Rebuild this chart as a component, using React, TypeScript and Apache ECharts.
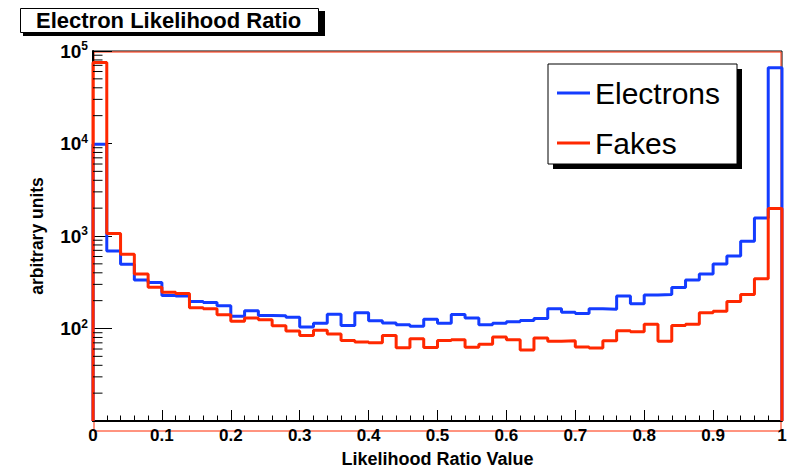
import React, { useEffect, useRef } from "react";
import * as echarts from "echarts";

// Histogram: 50 bins from 0 to 1
const BIN_WIDTH = 0.02;
const Y_MIN = 10;
const Y_MAX = 100000;

const seriesNames = ["Electrons", "Fakes"];

const electrons = [
  9800, 690, 495, 335, 315, 228, 224, 196, 191, 176,
  136, 156, 138, 137, 132, 104, 114, 143, 108, 148,
  121, 115, 110, 106, 126, 114, 142, 130, 110, 114,
  118, 122, 128, 163, 150, 145, 163, 161, 224, 185,
  230, 233, 278, 335, 388, 497, 608, 875, 1565, 65800,
];

const fakes = [
  75300, 1062, 635, 388, 279, 247, 239, 168, 164, 141,
  120, 130, 124, 107, 94, 84, 96, 87, 74, 71.5,
  70, 84, 62, 77.5, 62.5, 74, 75.5, 62.8, 67.5, 81,
  75.5, 58.5, 78.7, 73, 73.5, 63, 61.5, 73.5, 94.7, 92.5,
  111, 72.6, 108, 111, 148, 154, 196, 233, 344, 1977,
];

const yMinorTicks = [
  20, 30, 40, 50, 60, 70, 80, 90,
  200, 300, 400, 500, 600, 700, 800, 900,
  2000, 3000, 4000, 5000, 6000, 7000, 8000, 9000,
  20000, 30000, 40000, 50000, 60000, 70000, 80000, 90000,
];

const FONT = "'Liberation Sans', Arial, Helvetica, sans-serif";
const BLUE = "#143cff";
const RED = "#ff2800";

function stepPoints(vals: number[]): number[][] {
  const pts: number[][] = [[0, Y_MIN]];
  vals.forEach((v, i) => pts.push([+(i * BIN_WIDTH).toFixed(4), v]));
  pts.push([1, Y_MIN]);
  return pts;
}

export default function App() {
  const ref = useRef<HTMLDivElement>(null);
  useEffect(() => {
    if (!ref.current) return;
    const chart = echarts.init(ref.current, null, { renderer: "svg" });
    const option: any = {
      animation: false,
      backgroundColor: "#ffffff",
      textStyle: { fontFamily: FONT },
      title: {
        text: "Electron Likelihood Ratio",
        left: 20,
        top: 8,
        padding: [1, 18, 1, 16],
        borderColor: "#000",
        borderWidth: 1,
        backgroundColor: "#fff",
        z: 10,
        textStyle: { fontSize: 22, fontWeight: "bold", color: "#000", fontFamily: FONT, lineHeight: 23 },
      },
      graphic: [
        { type: "rect", z: 1, shape: { x: 23, y: 11, width: 302, height: 25 }, style: { fill: "#000" } },
        { type: "rect", z: 1, shape: { x: 553, y: 69, width: 189, height: 100 }, style: { fill: "#000" } },
        { type: "rect", z: 2, shape: { x: 548, y: 64, width: 189, height: 100 }, style: { fill: "#fff", stroke: "#000", lineWidth: 1 } },
        { type: "rect", z: 0, silent: true, shape: { x: 94, y: 52, width: 687, height: 379 }, style: { fill: "none", stroke: RED, lineWidth: 1 } },
      ],
      legend: {
        data: seriesNames,
        orient: "vertical",
        left: 557,
        top: 78,
        padding: 0,
        itemGap: 20,
        itemWidth: 33,
        itemHeight: 3,
        icon: "rect",
        z: 10,
        textStyle: { fontSize: 30, color: "#000", fontFamily: FONT, lineHeight: 30 },
      },
      grid: {
        left: 93,
        right: 9,
        top: 51,
        bottom: 41,
        show: true,
        borderColor: "#000",
        borderWidth: 1,
        backgroundColor: "transparent",
      },
      xAxis: {
        type: "value",
        min: 0,
        max: 1,
        interval: 0.1,
        name: "Likelihood Ratio Value",
        nameLocation: "middle",
        nameGap: 29,
        nameTextStyle: { fontSize: 18, fontWeight: "bold", color: "#000", fontFamily: FONT },
        axisLine: { show: true, lineStyle: { color: "#000", width: 2 } },
        axisTick: { show: true, inside: true, length: 11, lineStyle: { color: "#000", width: 1 } },
        minorTick: { show: true, splitNumber: 5, length: 5.5, lineStyle: { color: "#000", width: 1 } },
        splitLine: { show: false },
        axisLabel: {
          margin: 6,
          fontSize: 17,
          fontWeight: "bold",
          color: "#000",
          fontFamily: FONT,
          formatter: (v: number) => String(+v.toFixed(2)),
        },
      },
      yAxis: {
        type: "log",
        logBase: 10,
        min: Y_MIN,
        max: Y_MAX,
        name: "arbitrary units",
        nameLocation: "middle",
        nameGap: 47,
        nameTextStyle: { fontSize: 17.5, fontWeight: "bold", color: "#000", fontFamily: FONT },
        axisLine: { show: true, lineStyle: { color: "#000", width: 2 } },
        axisTick: { show: true, inside: true, length: 19, lineStyle: { color: "#000", width: 1 } },
        splitLine: { show: false },
        axisLabel: {
          margin: 5,
          color: "#000",
          fontFamily: FONT,
          formatter: (v: number) => {
            const e = Math.round(Math.log10(v));
            if (e < 2) return "";
            return `{b|10}{s|${e}}`;
          },
          rich: {
            b: { fontSize: 19, fontWeight: "bold", color: "#000", fontFamily: FONT, lineHeight: 22 },
            s: { fontSize: 12, fontWeight: "bold", color: "#000", fontFamily: FONT, verticalAlign: "top", lineHeight: 22, padding: [0, 0, 11, 0] },
          },
        },
      },
      series: [
        {
          name: "Electrons",
          type: "line",
          step: "end",
          symbol: "none",
          data: stepPoints(electrons),
          lineStyle: { color: BLUE, width: 3 },
          itemStyle: { color: BLUE },
          z: 3,
        },
        {
          name: "Fakes",
          type: "line",
          step: "end",
          symbol: "none",
          data: stepPoints(fakes),
          lineStyle: { color: RED, width: 3 },
          itemStyle: { color: RED },
          z: 4,
        },
        {
          name: "minorTicks",
          type: "custom",
          silent: true,
          z: 5,
          data: yMinorTicks.map((v) => [0, v]),
          renderItem: (params: any, api: any) => {
            const p = api.coord([0, api.value(1)]);
            return {
              type: "line",
              shape: { x1: p[0], y1: p[1], x2: p[0] + 9.5, y2: p[1] },
              style: { stroke: "#000", lineWidth: 1 },
            };
          },
        },
      ],
    };
    chart.setOption(option);
    return () => chart.dispose();
  }, []);
  return (
    <div
      ref={ref}
      style={{ position: "fixed", left: 0, top: 0, width: 791, height: 473, background: "#fff" }}
    />
  );
}
